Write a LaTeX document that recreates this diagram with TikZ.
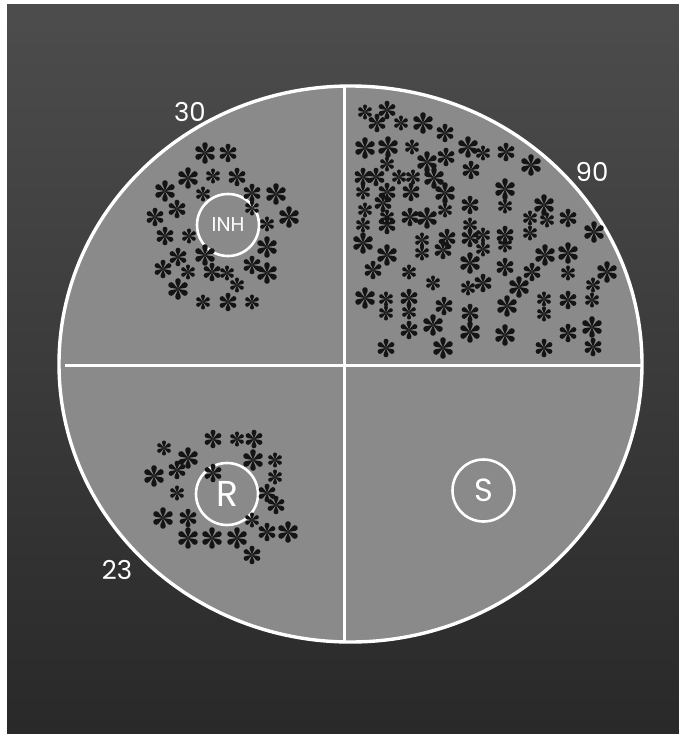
\documentclass[tikz,border=0pt]{standalone}
\usepackage{fontspec}
\setmainfont{Poppins}
\begin{document}
\begin{tikzpicture}[x=1pt,y=-1pt,
  ast/.pic={\foreach \a in {90,30,-30,-90,-150,150}{\fill[black!92,rotate=\a] (0,0) -- (-20.9:6.54) arc[start angle=-110.9,end angle=110.9,radius=2.5] -- cycle;}},
  astL/.style={scale=1.14}, astM/.style={scale=0.98}, astS/.style={scale=0.8},
  lbl/.style={text=white, font=\fontsize{26}{30}\selectfont, inner sep=0pt},
  ring/.style={draw=white, line width=2.6pt, circle, minimum size=62pt, inner sep=0pt, text=white},
  divider/.style={draw=white, line width=3pt}]
\useasboundingbox (0,0) rectangle (679,734);
\fill[white] (0,0) rectangle (679,734);
\shade[top color=black!70, bottom color=black!84] (7,4) rectangle (679,734);
% disk
\fill[black!46] (350.5,364) ellipse[x radius=291.5, y radius=278];
\coordinate (vt) at (344,86.5);
\coordinate (vb) at (344,641.5);
\coordinate (hl) at (65,365);
\coordinate (hr) at (641,365);
\draw[divider] (vt) -- (vb);
\draw[divider] (hl) -- (hr);
\draw[white, line width=3.4pt] (350.5,364) ellipse[x radius=291.5, y radius=278];
% rings
\node[ring, font=\fontsize{20}{22}\selectfont] (inh) at (228,225) {INH};
\node[ring, font=\fontsize{36}{38}\selectfont] (r) at (227,494) {R};
\node[ring, font=\fontsize{32}{36}\selectfont] (s) at (483.5,490.5) {S};
% labels
\node[lbl] (n30) at (190,112) {30};
\node[lbl] (n90) at (592,172) {90};
\node[lbl] (n23) at (117,570) {23};
% INH quadrant
\foreach \x/\y/\s in {205/153/L,228/153/M,188/178/L,213/176/S,237/177/M,165/191/L,203/194/S,252/193/M,276/194/L,177/209/M,252/208/S,155/217/M,289/217/L,267/224/S,165/236/M,189/236/S,267/247/L,205/255/L,178/257/M,252/265/M,163/269/M,188/272/S,212/272/M,227/273/S,267/273/L,237/285/S,178/289/L,203/302/S,228/302/M,252/302/S}
  \pic[ast\s] at (\x,\y) {ast};
% R quadrant
\foreach \x/\y/\s in {164/448/S,213/439/M,237/439/S,254/439/M,188/458/L,253/460/L,275/460/S,154/476/L,177/470/M,213/473/M,275/477/S,177/493/S,267/493/M,276/505/M,163/518/L,188/518/M,252/520/S,267/532/M,288/532/L,188/538/L,212/538/L,237/538/L,252/555/M}
  \pic[ast\s] at (\x,\y) {ast};
% 90 quadrant
\foreach \x/\y/\s in {365/112/S,387/110/M,377/123/M,401/123/S,423/123/L,445/133/M,
  365/148/L,388/147/L,412/147/S,468/147/L,483/153/S,506/152/M,427/162/L,446/157/M,387/164/S,531/165/L,471/170/M,
  363/177/M,376/177/M,399/177/S,413/177/S,434/178/L,363/192/S,387/192/M,411/192/M,445/193/L,505/189/L,
  383/203/M,470/205/M,505/206/S,544/205/L,365/210/S,387/217/S,410/217/M,427/218/L,445/210/S,530/218/S,547/220/S,568/218/M,
  363/225/S,387/225/M,470/225/S,594/232/L,363/243/L,422/240/S,447/238/M,470/238/M,483/235/S,505/235/M,530/233/S,
  387/255/L,422/253/S,443/250/M,483/249/S,505/245/S,545/255/L,568/253/L,
  373/270/M,409/272/S,470/263/L,505/267/M,532/272/M,568/273/S,607/272/L,
  433/283/S,483/283/M,519/287/L,468/288/S,593/285/S,
  365/298/L,386/299/S,409/298/M,444/306/M,507/306/L,544/299/S,568/300/M,592/300/S,
  386/313/S,409/312/S,470/313/M,544/314/S,
  409/330/M,433/325/L,470/332/L,505/335/L,568/333/M,592/327/L,
  386/348/M,443/348/L,544/348/M,593/347/M}
  \pic[ast\s] at (\x,\y) {ast};
\end{tikzpicture}
\end{document}
